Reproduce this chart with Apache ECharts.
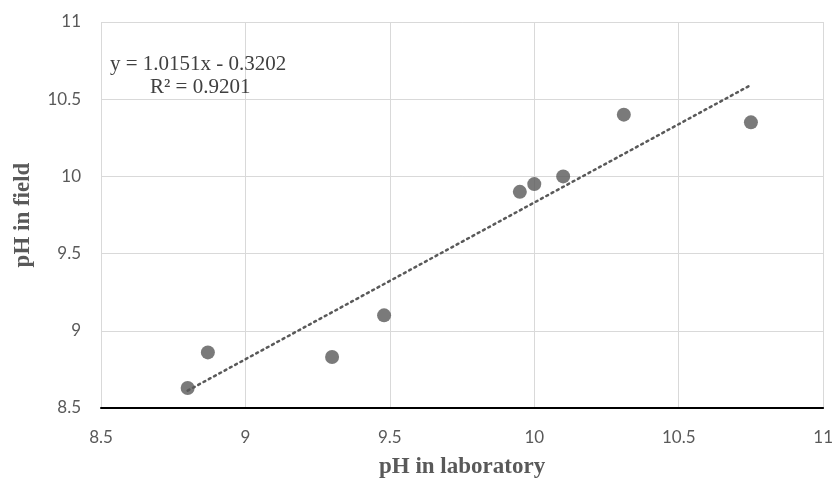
<!DOCTYPE html>
<html>
<head>
<meta charset="utf-8">
<script src="https://cdn.jsdelivr.net/npm/echarts@6/dist/echarts.min.js"></script>
<style>
  html, body { margin: 0; padding: 0; background: #fff; }
  #chart { width: 836px; height: 484px; }
</style>
</head>
<body>
<div id="chart"></div>
<script>
// Laboratory vs field pH measurements
const phLab   = [8.80, 8.87, 9.30, 9.48, 9.95, 10.00, 10.10, 10.31, 10.75];
const phField = [8.63, 8.86, 8.83, 9.10, 9.90, 9.95, 10.00, 10.40, 10.35];

// Linear trendline parameters
const slope = 1.0151;
const intercept = -0.3202;
const rSquared = 0.9201;

const axisTicks = [8.5, 9, 9.5, 10, 10.5, 11];

const points = phLab.map((x, i) => [x, phField[i]]);
const xMin = Math.min(...phLab);
const xMax = Math.max(...phLab);
const trend = [[xMin, slope * xMin + intercept], [xMax, slope * xMax + intercept]];

const tickFont = { color: '#595959', fontSize: 17, fontFamily: 'Lato, "Open Sans", sans-serif' };
const titleFont = { color: '#595959', fontSize: 23, fontWeight: 'bold', fontFamily: '"Liberation Serif", "Times New Roman", serif' };
const eqFont = '21px "Liberation Serif", "Times New Roman", serif';

const chart = echarts.init(document.getElementById('chart'), null, { renderer: 'canvas' });
chart.setOption({
  animation: false,
  grid: { left: 101, right: 10, top: 22, bottom: 75 },
  xAxis: {
    type: 'value',
    min: axisTicks[0], max: axisTicks[axisTicks.length - 1], interval: 0.5,
    name: 'pH in laboratory', nameLocation: 'middle', nameGap: 48,
    nameTextStyle: titleFont,
    axisLine: { show: true, onZero: false, lineStyle: { color: '#000', width: 2 } },
    axisTick: { show: false },
    axisLabel: Object.assign({ margin: 21 }, tickFont),
    splitLine: { show: true, lineStyle: { color: '#d9d9d9', width: 1 } }
  },
  yAxis: {
    type: 'value',
    min: axisTicks[0], max: axisTicks[axisTicks.length - 1], interval: 0.5,
    name: 'pH in field', nameLocation: 'middle', nameGap: 66,
    nameTextStyle: titleFont,
    axisLine: { show: false },
    axisTick: { show: false },
    axisLabel: Object.assign({ margin: 20 }, tickFont),
    splitLine: { show: true, lineStyle: { color: '#d9d9d9', width: 1 } }
  },
  series: [
    {
      type: 'line',
      data: trend,
      symbol: 'none',
      z: 2,
      lineStyle: { color: '#595959', width: 2.5, type: [2, 4], cap: 'round' }
    },
    {
      type: 'scatter',
      data: points,
      symbol: 'circle',
      symbolSize: 14,
      z: 3,
      itemStyle: { color: '#595959' }
    }
  ],
  graphic: [
    {
      type: 'text', left: 110, top: 54, z: 10,
      style: { text: 'y = ' + slope.toFixed(4) + 'x - ' + Math.abs(intercept).toFixed(4),
               fill: '#404040', font: eqFont }
    },
    {
      type: 'text', left: 150, top: 77, z: 10,
      style: { text: 'R² = ' + rSquared.toFixed(4),
               fill: '#404040', font: eqFont }
    }
  ]
});
</script>
</body>
</html>
